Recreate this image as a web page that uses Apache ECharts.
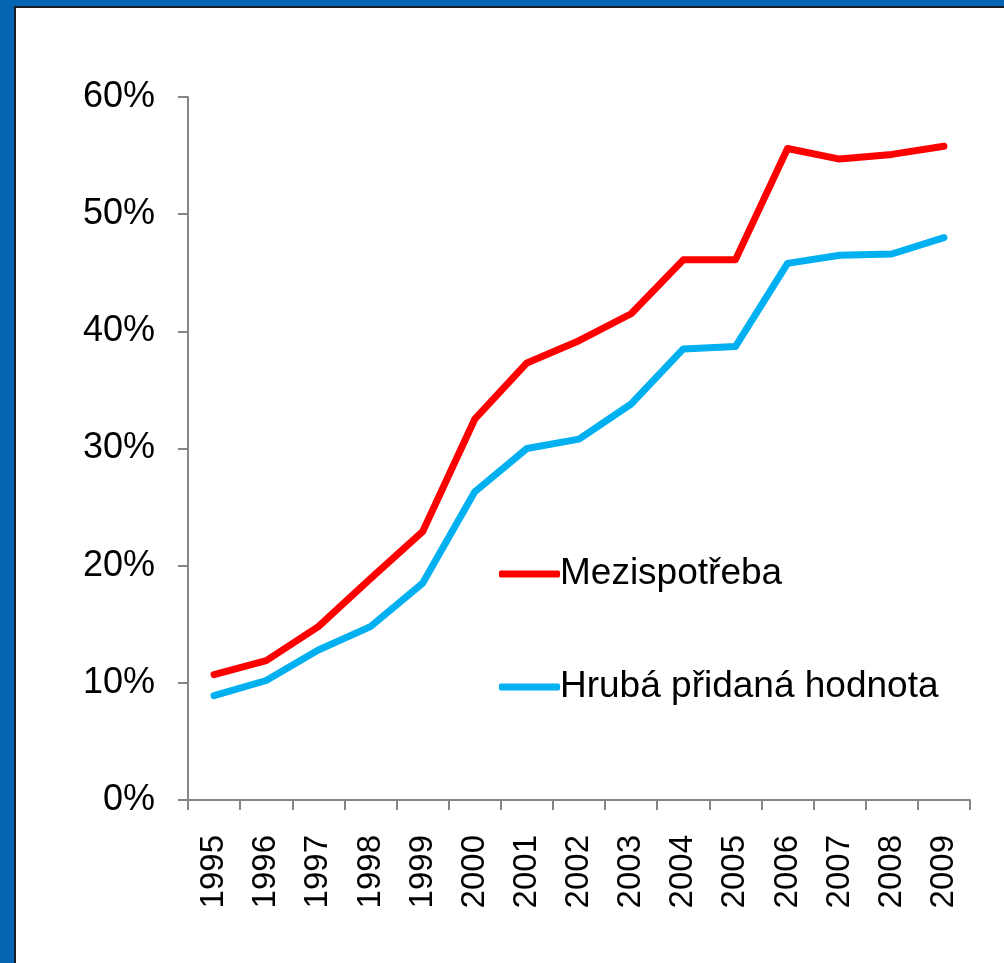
<!DOCTYPE html>
<html>
<head>
<meta charset="utf-8">
<script src="https://cdn.jsdelivr.net/npm/echarts@6/dist/echarts.min.js"></script>
<style>
  html, body { margin: 0; padding: 0; background: #fff; }
  #chart { width: 1004px; height: 963px; }
</style>
</head>
<body>
<div id="chart"></div>
<script>
// roky
const years = ['1995', '1996', '1997', '1998', '1999', '2000', '2001', '2002',
  '2003', '2004', '2005', '2006', '2007', '2008', '2009']
// hodnoty v %
const mezispotreba = [10.7, 11.9, 14.8, 18.9, 22.9, 32.5, 37.3, 39.2, 41.5, 46.1, 46.1, 55.6, 54.7, 55.1, 55.8]
const hpHodnota = [8.9, 10.2, 12.8, 14.8, 18.5, 26.3, 30.0, 30.8, 33.8, 38.5, 38.7, 45.8, 46.5, 46.6, 48.0]
const seriesNames = ['Mezispotřeba', 'Hrubá přidaná hodnota']
const yTicks = [0, 10, 20, 30, 40, 50, 60]

const font = 'Liberation Sans, Arial, sans-serif'
const axisColor = '#868686'

const chart = echarts.init(document.getElementById('chart'))
chart.setOption({
  backgroundColor: '#fff',
  animation: false,
  graphic: [
    // modrý rámeček vlevo a nahoře
    { type: 'rect', shape: { x: 0, y: 0, width: 1004, height: 8 }, style: { fill: '#1b1b26' }, z: 100 },
    { type: 'rect', shape: { x: 0, y: 0, width: 16, height: 963 }, style: { fill: '#1b1b26' }, z: 100 },
    { type: 'rect', shape: { x: 0, y: 0, width: 1004, height: 6 }, style: { fill: '#0466b1' }, z: 101 },
    { type: 'rect', shape: { x: 0, y: 0, width: 14, height: 963 }, style: { fill: '#0466b1' }, z: 101 }
  ],
  legend: {
    orient: 'vertical',
    left: 494,
    top: 549,
    itemWidth: 61,
    itemHeight: 7,
    itemGap: 73,
    icon: 'roundRect',
    data: seriesNames,
    textStyle: {
      fontFamily: font,
      fontSize: 37,
      color: '#000',
      lineHeight: 40,
      padding: [0, 0, 0, -5]
    }
  },
  grid: {
    left: 188,
    top: 97,
    right: 34,
    bottom: 163,
    containLabel: false
  },
  xAxis: {
    type: 'category',
    data: years,
    boundaryGap: true,
    axisLine: { lineStyle: { color: axisColor, width: 2 } },
    axisTick: { show: true, length: 10, lineStyle: { color: axisColor, width: 2 } },
    axisLabel: {
      rotate: 90,
      margin: 35,
      fontFamily: font,
      fontSize: 33,
      color: '#000',
      interval: 0
    },
    splitLine: { show: false }
  },
  yAxis: {
    type: 'value',
    min: yTicks[0],
    max: yTicks[yTicks.length - 1],
    interval: 10,
    axisLine: { show: true, lineStyle: { color: axisColor, width: 2 } },
    axisTick: { show: true, length: 10, lineStyle: { color: axisColor, width: 2 } },
    axisLabel: {
      margin: 33,
      fontFamily: font,
      fontSize: 36,
      color: '#000',
      formatter: function (v) { return v + '%' }
    },
    splitLine: { show: false }
  },
  series: [
    {
      name: seriesNames[0],
      type: 'line',
      data: mezispotreba,
      symbol: 'none',
      color: '#ff0000',
      lineStyle: { width: 7, color: '#ff0000', cap: 'round', join: 'round' }
    },
    {
      name: seriesNames[1],
      type: 'line',
      data: hpHodnota,
      symbol: 'none',
      color: '#00b0f0',
      lineStyle: { width: 7, color: '#00b0f0', cap: 'round', join: 'round' }
    }
  ]
})
</script>
</body>
</html>
